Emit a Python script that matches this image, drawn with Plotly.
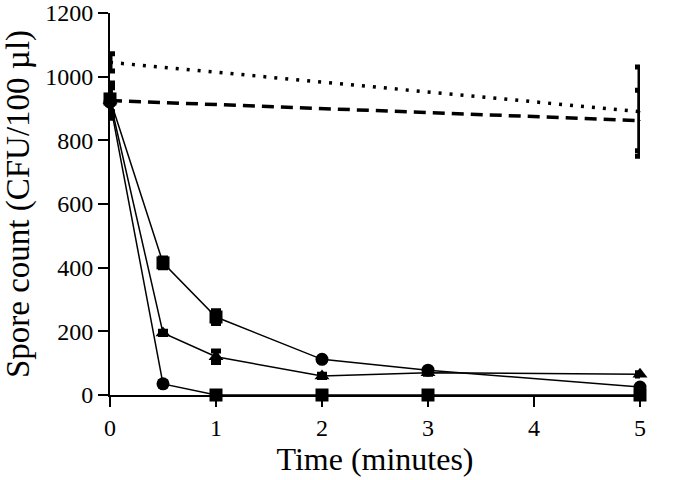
import plotly.graph_objects as go

# Data
time_short = [0, 5]
dotted_y = [1045, 890]
dotted_err = [27, 140]
dashed_y = [925, 862]
dashed_err = [55, 95]

time_full = [0, 0.5, 1, 2, 3, 5]
s1_y = [930, 415, 245, 112, 78, 25]
s1_err = [40, 15, 20, 5, 5, 5]
s2_y = [925, 195, 120, 60, 70, 65]
s2_err = [40, 5, 18, 5, 5, 5]
s3_y = [920, 35, 0, 0, 0, 0]
s3_err = [50, 6, 3, 3, 3, 3]

x_ticks = [0, 1, 2, 3, 4, 5]
y_ticks = [0, 200, 400, 600, 800, 1000, 1200]

FONT = "Liberation Serif"
fig = go.Figure()

def add(x, y, err, dash, width, symbol, size):
    fig.add_trace(go.Scatter(
        x=x, y=y, mode="lines+markers", cliponaxis=False,
        line=dict(color="black", width=width, dash=dash),
        marker=dict(symbol=symbol, size=size, color="black"),
        error_y=dict(type="data", array=err, visible=True, color="black",
                     thickness=5, width=5),
        showlegend=False))

add(time_short, dotted_y, dotted_err, "3px,8px", 3.5, "square", 1)
add(time_short, dashed_y, dashed_err, "12px,7px", 3.5, "square", 1)
add(time_full, s1_y, s1_err, "solid", 1.5,
    ["square", "square", "square", "circle", "circle", "circle"], 13)
add(time_full, s2_y, s2_err, "solid", 1.5, "triangle-up", 13)
add(time_full, s3_y, s3_err, "solid", 1.5,
    ["circle", "circle", "square", "square", "square", "square"], 13)

fig.update_layout(
    width=675, height=480,
    margin=dict(l=110, r=35, t=13, b=85),
    paper_bgcolor="white", plot_bgcolor="white",
    font=dict(family=FONT, size=24, color="black"),
    xaxis=dict(range=[0, 5], tickvals=x_ticks, showline=True, linecolor="black",
               linewidth=2, ticks="outside", ticklen=10, tickwidth=2,
               tickcolor="black", showgrid=False, zeroline=False, automargin=False,
               title=dict(text="Time (minutes)", font=dict(size=32), standoff=8),
               tickfont=dict(size=24)),
    yaxis=dict(range=[0, 1200], tickvals=y_ticks, showline=True, linecolor="black",
               linewidth=2, ticks="outside", ticklen=10, tickwidth=2,
               tickcolor="black", showgrid=False, zeroline=False, automargin=False,
               title=dict(text="Spore count (CFU/100 µl)", font=dict(size=33), standoff=8),
               tickfont=dict(size=24)),
)

# remove the browser's default 8px body margin so the figure fills the window
fig.write_html("out.html", config={"displayModeBar": False},
               post_script="document.body.style.margin='0';")
